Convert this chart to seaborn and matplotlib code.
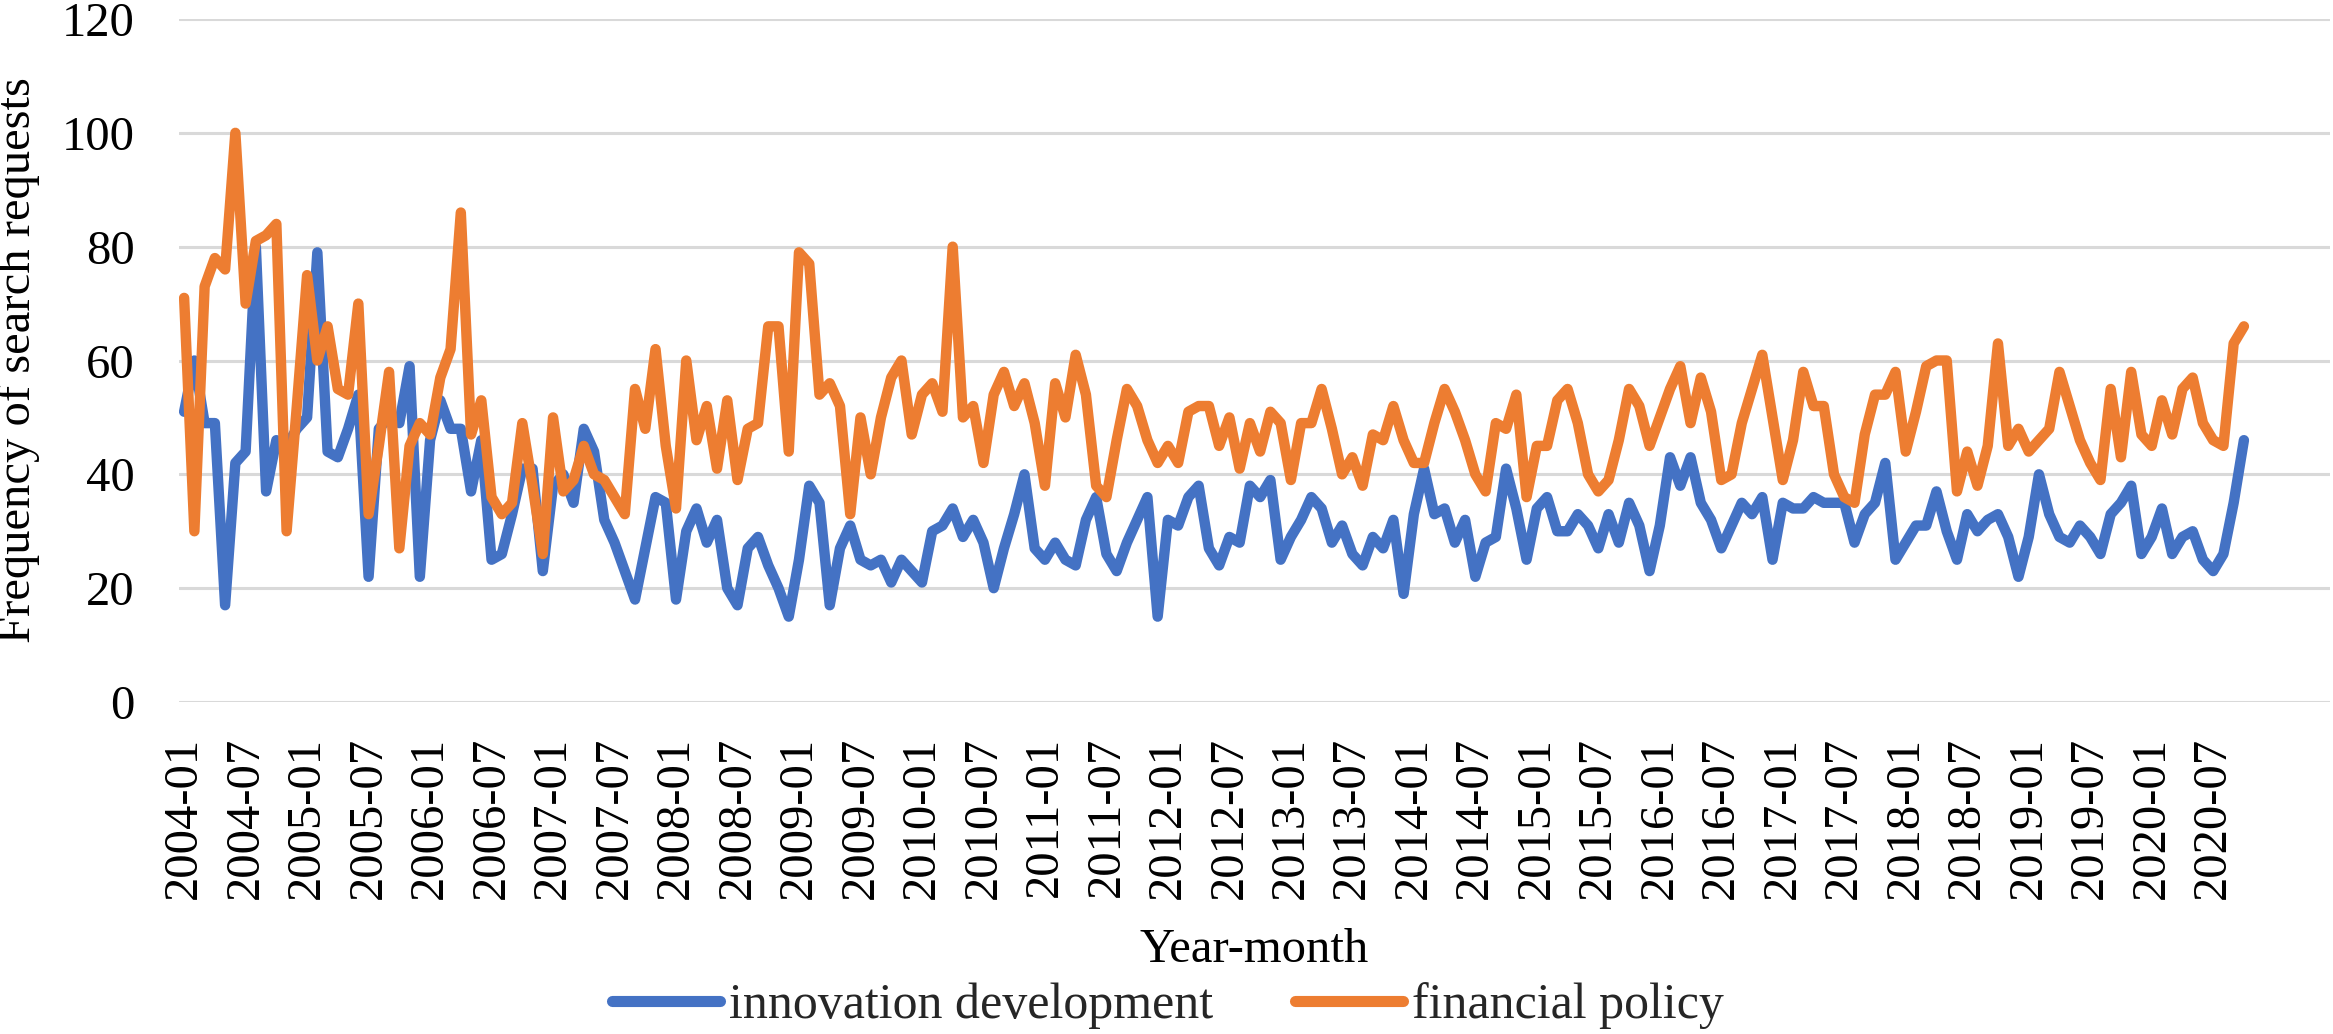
import numpy as np
import pandas as pd
import matplotlib
matplotlib.use("Agg")
import matplotlib.pyplot as plt
import seaborn as sns

# ---- data (monthly, 2004-01 .. 2020-10) ----
innovation_development = [
    51, 60, 49, 49, 17, 42, 44, 80, 37, 46, 45, 48,
    50, 79, 44, 43, 48, 54, 22, 48, 50, 49, 59, 22,
    46, 53, 48, 48, 37, 46, 25, 26, 33, 41, 41, 23,
    38, 40, 35, 48, 44, 32, 28, 23, 18, 27, 36, 35,
    18, 30, 34, 28, 32, 20, 17, 27, 29, 24, 20, 15,
    25, 38, 35, 17, 27, 31, 25, 24, 25, 21, 25, 23,
    21, 30, 31, 34, 29, 32, 28, 20, 27, 33, 40, 27,
    25, 28, 25, 24, 32, 36, 26, 23, 28, 32, 36, 15,
    32, 31, 36, 38, 27, 24, 29, 28, 38, 36, 39, 25,
    29, 32, 36, 34, 28, 31, 26, 24, 29, 27, 32, 19,
    33, 41, 33, 34, 28, 32, 22, 28, 29, 41, 34, 25,
    34, 36, 30, 30, 33, 31, 27, 33, 28, 35, 31, 23,
    31, 43, 38, 43, 35, 32, 27, 31, 35, 33, 36, 25,
    35, 34, 34, 36, 35, 35, 35, 28, 33, 35, 42, 25,
    28, 31, 31, 37, 30, 25, 33, 30, 32, 33, 29, 22,
    29, 40, 33, 29, 28, 31, 29, 26, 33, 35, 38, 26,
    29, 34, 26, 29, 30, 25, 23, 26, 35, 46,
]
financial_policy = [
    71, 30, 73, 78, 76, 100, 70, 81, 82, 84, 30, 52,
    75, 60, 66, 55, 54, 70, 33, 45, 58, 27, 45, 49,
    47, 57, 62, 86, 47, 53, 36, 33, 35, 49, 38, 26,
    50, 37, 39, 45, 40, 39, 36, 33, 55, 48, 62, 45,
    34, 60, 46, 52, 41, 53, 39, 48, 49, 66, 66, 44,
    79, 77, 54, 56, 52, 33, 50, 40, 50, 57, 60, 47,
    54, 56, 51, 80, 50, 52, 42, 54, 58, 52, 56, 49,
    38, 56, 50, 61, 54, 38, 36, 46, 55, 52, 46, 42,
    45, 42, 51, 52, 52, 45, 50, 41, 49, 44, 51, 49,
    39, 49, 49, 55, 48, 40, 43, 38, 47, 46, 52, 46,
    42, 42, 49, 55, 51, 46, 40, 37, 49, 48, 54, 36,
    45, 45, 53, 55, 49, 40, 37, 39, 46, 55, 52, 45,
    50, 55, 59, 49, 57, 51, 39, 40, 49, 55, 61, 50,
    39, 46, 58, 52, 52, 40, 36, 35, 47, 54, 54, 58,
    44, 51, 59, 60, 60, 37, 44, 38, 45, 63, 45, 48,
    44, 46, 48, 58, 52, 46, 42, 39, 55, 43, 58, 47,
    45, 53, 47, 55, 57, 49, 46, 45, 63, 66,
]
series_names = ["innovation development", "financial policy"]
series_colors = ["#4472C4", "#ED7D31"]
start_year = 2004
n_months = len(innovation_development)
month_labels = [f"{start_year + k // 12}-{k % 12 + 1:02d}" for k in range(n_months)]
y_ticks = [0, 20, 40, 60, 80, 100, 120]

df = pd.DataFrame({
    "idx": list(range(n_months)) * 2,
    "value": innovation_development + financial_policy,
    "series": [series_names[0]] * n_months + [series_names[1]] * n_months,
})

# ---- figure ----
sns.set_theme(style="white")
plt.rcParams["font.family"] = ["Liberation Serif", "DejaVu Serif"]
FS = 35

W, H = 2333, 1034
fig = plt.figure(figsize=(W / 100, H / 100), dpi=100)
ax = fig.add_axes([179 / W, 1 - 702 / H, (2330 - 179) / W, (702 - 19) / H])

sns.lineplot(data=df, x="idx", y="value", hue="series", hue_order=series_names,
             palette=series_colors, linewidth=7.5, ax=ax, legend=True,
             solid_capstyle="round", solid_joinstyle="round")

handles, labels = ax.get_legend_handles_labels()
ax.get_legend().remove()

ax.set_xlim(-0.5, 209.4)
ax.set_ylim(0, 120)
ax.set_yticks(y_ticks)
ax.set_yticklabels([str(v) for v in y_ticks], fontsize=FS, color="black")
tick_pos = list(range(0, n_months, 6))
ax.set_xticks(tick_pos)
ax.set_xticklabels([month_labels[p] for p in tick_pos], rotation=90,
                   fontsize=FS, color="black")
ax.tick_params(axis="both", length=0)
ax.tick_params(axis="y", pad=32)
ax.tick_params(axis="x", pad=25)

ax.yaxis.grid(True, color="#D9D9D9", linewidth=2.2)
ax.xaxis.grid(False)
ax.set_axisbelow(True)
for s in ax.spines.values():
    s.set_visible(False)

ax.set_xlabel("Year-month", fontsize=FS, color="black")
ax.xaxis.label.set_va("baseline")
ax.xaxis.set_label_coords(0.5, -(962 - 702) / (702 - 19))
ax.set_ylabel("Frequency of search requests", fontsize=FS, color="black")
ax.yaxis.label.set_va("center")
ax.yaxis.set_label_coords((18 - 179) / (2330 - 179), 0.5)

for h in handles:
    h.set_linewidth(8)
    h.set_solid_capstyle("round")
fig.legend(handles, labels, loc="center", bbox_to_anchor=(0.5006, 1 - 1006 / H),
           ncol=2, frameon=False, fontsize=36, handlelength=2.15,
           handletextpad=0.18, columnspacing=1.65, borderpad=0, borderaxespad=0)

fig.savefig("out.png", dpi=100, facecolor="white")
